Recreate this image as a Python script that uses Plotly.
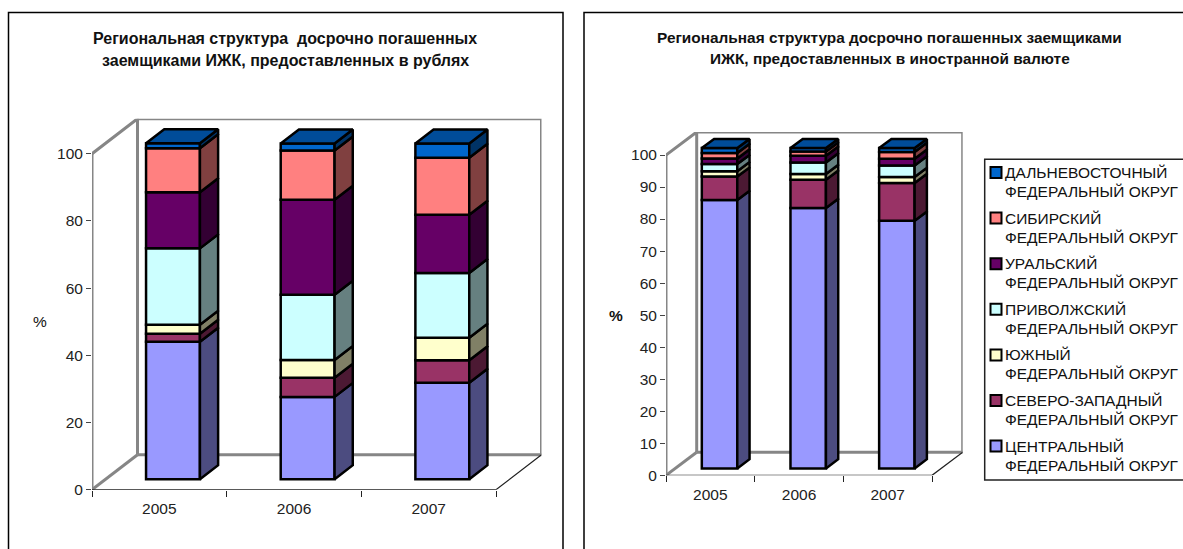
import plotly.graph_objects as go

W, H = 1183, 549
FONT = "Liberation Sans"

years = ["2005", "2006", "2007"]
regions = ["ЦЕНТРАЛЬНЫЙ", "СЕВЕРО-ЗАПАДНЫЙ", "ЮЖНЫЙ", "ПРИВОЛЖСКИЙ", "УРАЛЬСКИЙ", "СИБИРСКИЙ", "ДАЛЬНЕВОСТОЧНЫЙ"]
district = "ФЕДЕРАЛЬНЫЙ ОКРУГ"
colors = ["#9999FF", "#993366", "#FFFFCC", "#CCFFFF", "#660066", "#FF8080", "#0066CC"]
side_colors = ["#4C4C80", "#4C1933", "#808066", "#668080", "#330033", "#804040", "#003366"]
top_color = "#004C99"

# rouble loans, %, one list per year, regions in stacking order
rub_2005 = [40.9, 2.4, 2.7, 22.7, 16.7, 13.1, 1.5]
rub_2006 = [24.5, 5.7, 5.3, 19.4, 28.3, 14.6, 2.1]
rub_2007 = [28.7, 6.7, 6.7, 19.3, 17.3, 17.0, 4.2]
# foreign currency loans, %
fx_2005 = [83.8, 7.3, 1.7, 2.2, 1.75, 1.7, 1.55]
fx_2006 = [81.3, 8.8, 1.8, 3.6, 2.1, 1.3, 1.1]
fx_2007 = [77.3, 11.8, 1.9, 3.6, 2.1, 2.1, 1.2]

left_ticks = [0, 20, 40, 60, 80, 100]
right_ticks = [0, 10, 20, 30, 40, 50, 60, 70, 80, 90, 100]

title_left = ["Региональная структура\u00a0\u00a0досрочно погашенных", "заемщиками ИЖК, предоставленных в рублях"]
title_right = ["Региональная структура досрочно погашенных заемщиками", "ИЖК, предоставленных в иностранной валюте"]


def px(x):
    return x / W


def py(y):
    return 1 - y / H


fig = go.Figure()
shapes = []
annotations = []


def text(x, y, s, size=15.5, anchor="left", bold=False):
    annotations.append(dict(
        xref="paper", yref="paper", x=px(x), y=py(y), text=f"<b>{s}</b>" if bold else s,
        showarrow=False, xanchor=anchor, yanchor="middle", borderpad=0,
        font=dict(family=FONT, size=size, color="#111111"),
    ))


def poly(xs, ys, fill, xa, ya):
    fig.add_trace(go.Scatter(
        x=xs + xs[:1], y=ys + ys[:1], mode="lines", fill="toself", fillcolor=fill,
        line=dict(color="black", width=2.5), cliponaxis=False, showlegend=False, hoverinfo="skip",
        xaxis=xa, yaxis=ya,
    ))


def edge(xs, ys, xa, ya, color="#868686", width=3):
    fig.add_trace(go.Scatter(
        x=xs, y=ys, mode="lines", line=dict(color=color, width=width), cliponaxis=False,
        showlegend=False, hoverinfo="skip", xaxis=xa, yaxis=ya,
    ))


def panel(series, ticks, suffix, x0_px, x3_px, y0_px, y100_px, depth_x_px, depth_y_px):
    xa, ya = "x" + suffix, "y" + suffix
    ux = (x3_px - x0_px) / 3
    uy = (y0_px - y100_px) / 100
    dx = depth_x_px / ux
    dy = depth_y_px / uy
    xmax = 3 + dx
    ymax = 100 + dy

    # walls
    shapes.append(dict(type="line", xref=xa, yref=ya, x0=dx, x1=xmax, y0=dy, y1=dy,
                       line=dict(color="#868686", width=3), layer="below"))
    edge([0, 0], [-2, 100], xa, ya)
    edge([0, dx, dx], [100, ymax, dy], xa, ya)
    edge([dx, xmax, xmax], [ymax, ymax, dy], xa, ya)
    edge([0, dx], [0, dy], xa, ya)
    # floor
    edge([0, 3, xmax], [0, 0, dy], xa, ya, color="#222222", width=1.2)

    d0, d1, bw = 0.3, 0.7, 0.4
    for i, vals in enumerate(series):
        left = i + 0.5 - bw / 2 + d0 * dx
        right = left + bw
        ox1, oy1 = (d1 - d0) * dx, (d1 - d0) * dy
        base = d0 * dy
        for k, v in enumerate(vals):
            fig.add_trace(go.Bar(
                x=[left + bw / 2], y=[v], base=[base], width=[bw],
                marker=dict(color=colors[k], line=dict(color="black", width=2.5)),
                cliponaxis=False, showlegend=False, hoverinfo="skip", xaxis=xa, yaxis=ya,
            ))
            poly([right, right + ox1, right + ox1, right],
                 [base, base + oy1, base + v + oy1, base + v], side_colors[k], xa, ya)
            base += v
        poly([left, right, right + ox1, left + ox1],
             [base, base, base + oy1, base + oy1], top_color, xa, ya)

    tickfont = dict(family=FONT, size=15.5, color="#222222")
    axis_x = dict(
        domain=[px(x0_px), px(x3_px + depth_x_px)], range=[0, xmax], anchor=ya, automargin=False,
        tickmode="array", tickvals=[0.5, 1.5, 2.5], ticktext=years, ticks="outside", ticklen=5,
        tickcolor="rgba(0,0,0,0)", tickfont=tickfont, showgrid=False, zeroline=False, showline=False,
        minor=dict(tickmode="array", tickvals=[0, 1, 2, 3], ticks="outside", ticklen=6,
                   tickcolor="#222222", tickwidth=1.2, showgrid=False),
    )
    axis_y = dict(
        domain=[py(y0_px), py(y100_px - depth_y_px)], range=[0, ymax], anchor=xa, automargin=False,
        tickmode="array", tickvals=ticks, ticks="outside", ticklen=5, tickcolor="#444444", tickwidth=1.2,
        tickfont=tickfont, showgrid=False, zeroline=False, showline=False,
    )
    return axis_x, axis_y


xl, yl = panel([rub_2005, rub_2006, rub_2007], left_ticks, "", 92, 496, 489.7, 153.7, 45.5, 35)
xr, yr = panel([fx_2005, fx_2006, fx_2007], right_ticks, "2", 666, 932, 475.3, 155, 30.7, 23)

# chart frames
for x0, x1 in [(8.5, 563), (584, 1200)]:
    shapes.append(dict(type="rect", xref="paper", yref="paper", x0=px(x0), x1=px(x1),
                       y0=py(600), y1=py(12.5), line=dict(color="black", width=1.5)))

# titles and axis captions
for i, line in enumerate(title_left):
    text(285.3, 38.3 + 21.7 * i, line, size=16, anchor="center", bold=True)
for i, line in enumerate(title_right):
    text(889.5, 37.3 + 21 * i, line, size=15.4, anchor="center", bold=True)
text(40, 321, "%", anchor="center")
text(616, 315, "%", anchor="center", bold=True)

# legend
shapes.append(dict(type="rect", xref="paper", yref="paper", x0=px(984.7), x1=px(1200), y0=py(480),
                   y1=py(159.3), line=dict(color="#222222", width=1.5)))
for i, k in enumerate(reversed(range(len(regions)))):
    yy = 172.5 + 45.6 * i
    shapes.append(dict(type="rect", xref="paper", yref="paper", x0=px(990.5), x1=px(1001.5),
                       y0=py(yy + 5.5), y1=py(yy - 5.5), fillcolor=colors[k], line=dict(color="black", width=2)))
    text(1004, yy, regions[k])
    text(1004, yy + 19, district)

fig.update_layout(
    width=W, height=H, margin=dict(l=0, r=0, t=0, b=0), autosize=False,
    paper_bgcolor="white", plot_bgcolor="rgba(0,0,0,0)", barmode="overlay",
    showlegend=False, shapes=shapes, annotations=annotations,
    xaxis=xl, yaxis=yl, xaxis2=xr, yaxis2=yr,
    font=dict(family=FONT),
)
fig.write_html("out.html", config={"displayModeBar": False},
               post_script="document.body.style.margin='0';")
